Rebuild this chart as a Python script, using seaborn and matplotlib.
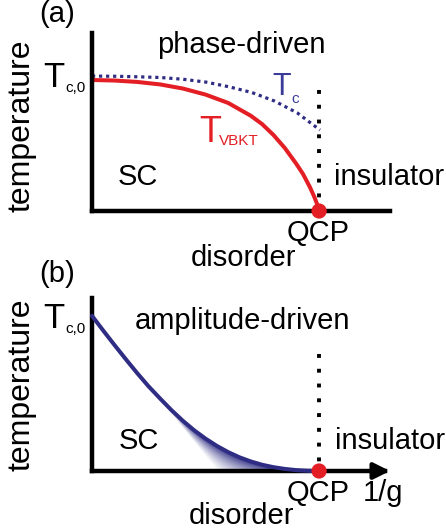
import numpy as np
import matplotlib
matplotlib.use("Agg")
import matplotlib.pyplot as plt
import seaborn as sns

# ---------------- data ----------------
# panel (a): disorder (0..1 along axis) vs temperature (0..1 along axis)
tc_x = [0.0, 0.0765, 0.153, 0.230, 0.306, 0.383, 0.459, 0.536, 0.612, 0.689, 0.765]
tc_y = [0.758, 0.757, 0.754, 0.750, 0.740, 0.724, 0.698, 0.666, 0.618, 0.551, 0.455]
vbkt_x = [0.0, 0.076, 0.152, 0.229, 0.305, 0.381, 0.457, 0.533, 0.571, 0.609,
          0.647, 0.686, 0.708, 0.731, 0.746, 0.754, 0.762]
vbkt_y = [0.736, 0.733, 0.725, 0.711, 0.688, 0.654, 0.607, 0.535, 0.488, 0.427,
          0.354, 0.264, 0.208, 0.135, 0.079, 0.045, 0.0]
# panel (b): amplitude-driven transition line
amp_x = [0.0, 0.038, 0.076, 0.114, 0.152, 0.190, 0.229, 0.267, 0.305, 0.343, 0.381,
         0.419, 0.457, 0.495, 0.533, 0.571, 0.609, 0.647, 0.686, 0.724, 0.762]
amp_y = [0.897, 0.811, 0.727, 0.645, 0.565, 0.489, 0.418, 0.351, 0.290, 0.235, 0.187,
         0.145, 0.109, 0.079, 0.055, 0.036, 0.022, 0.012, 0.005, 0.001, 0.0]
qcp_x = [0.762]
qcp_y = [0.0]
boundary_top = [0.68, 0.676]   # top of dotted vertical lines, panels a and b

RED = "#E31E24"
NAVY = "#2E2D83"
NAVY_TXT = "#3A3A99"

sns.set_style("white")
plt.rcParams["font.family"] = ["Liberation Sans", "DejaVu Sans"]

W, H = 446, 532
fig = plt.figure(figsize=(W / 100, H / 100), dpi=100)


def fp(x, y):
    return x / W, 1 - y / H


def txt(x, y, s, size=21, color="black", ha="left", va="baseline", **kw):
    fx, fy = fp(x, y)
    fig.text(fx, fy, s, fontsize=size, color=color, ha=ha, va=va, **kw)


def make_axes(top_px, bottom_px):
    left, right = 92, 390
    fx, fy = fp(left, bottom_px)
    ax = fig.add_axes([fx, fy, (right - left) / W, (bottom_px - top_px) / H])
    ax.set_xlim(0, 1)
    ax.set_ylim(0, 1)
    ax.set_facecolor("none")
    for s in ["top", "right"]:
        ax.spines[s].set_visible(False)
    for s in ["left", "bottom"]:
        ax.spines[s].set_linewidth(3.2)
        ax.spines[s].set_color("black")
        ax.spines[s].set_capstyle("projecting")
    ax.set_xticks([])
    ax.set_yticks([])
    return ax


def tidy(ax):
    ax.set_xlim(0, 1)
    ax.set_ylim(0, 1)
    ax.set_xlabel("")
    ax.set_ylabel("")


# ---------------- panel (a) ----------------
axa = make_axes(33, 211)
sns.lineplot(x=tc_x, y=tc_y, ax=axa, color=NAVY, lw=2.3, clip_on=False)
axa.lines[-1].set_dashes((1, 1.2))
sns.lineplot(x=vbkt_x, y=vbkt_y, ax=axa, color=RED, lw=2.9, clip_on=False)
axa.plot([qcp_x[0], qcp_x[0]], [boundary_top[0], 0], color="black", lw=2.8,
         dashes=(1, 2.8), clip_on=False)
sns.scatterplot(x=qcp_x, y=qcp_y, ax=axa, color=RED, s=120, edgecolor="none",
                zorder=10, clip_on=False)
tidy(axa)

# ---------------- panel (b) ----------------
axb = make_axes(298, 471)
axb.spines["bottom"].set_visible(False)
axb.annotate("", xy=(1.0, 0), xytext=(0, 0), xycoords="axes fraction",
             arrowprops=dict(arrowstyle="-|>", lw=3.2, color="black",
                             mutation_scale=24, shrinkA=0, shrinkB=0,
                             capstyle="projecting"),
             annotation_clip=False)

# gradient shading below the curve near the QCP
ax_arr = np.array(amp_x)
ay_arr = np.array(amp_y)
gx = np.linspace(0, qcp_x[0], 500)
gy = np.linspace(0, 0.45, 300)
GX, GY = np.meshgrid(gx, gy)
xc = np.interp(GY, ay_arr[::-1], ax_arr[::-1])
xl = 0.419 - 0.46 * GY
with np.errstate(divide="ignore", invalid="ignore"):
    t = (GX - xl) / (xc - xl)
mask = (GX > xl) & (GX < xc) & (xc > xl)
alpha = np.where(mask, np.clip(t, 0, 1) ** 0.9, 0.0)
rgba = np.zeros(GX.shape + (4,))
rgb = matplotlib.colors.to_rgb(NAVY)
rgba[..., 0], rgba[..., 1], rgba[..., 2] = rgb
rgba[..., 3] = alpha
axb.imshow(rgba, extent=[0, qcp_x[0], 0, 0.45], origin="lower", aspect="auto",
           interpolation="bilinear", zorder=1)

sns.lineplot(x=amp_x, y=amp_y, ax=axb, color=NAVY, lw=2.9, clip_on=False, zorder=3)
axb.plot([qcp_x[0], qcp_x[0]], [boundary_top[1], 0], color="black", lw=2.8,
         dashes=(1, 2.8), clip_on=False)
sns.scatterplot(x=qcp_x, y=qcp_y, ax=axb, color=RED, s=120, edgecolor="none",
                zorder=10, clip_on=False)
tidy(axb)

# ---------------- texts ----------------
# panel (a)
txt(57, 22, "(a)", ha="center")
txt(241, 53, "phase-driven", ha="center")
txt(43, 87, "T", size=25)
txt(65, 92, "c,0", size=11)
txt(272, 95, "T", size=22, color=NAVY_TXT)
txt(291, 103, "c", size=11, color=NAVY_TXT)
txt(199, 142, "T", size=26, color=RED)
txt(219, 145, "VBKT", size=11, color=RED)
txt(138, 185, "SC", ha="center")
txt(334, 185, "insulator")
txt(318, 241, "QCP", ha="center")
txt(244, 266, "disorder", ha="center")
txt(22, 126, "temperature", size=23, ha="center", va="center", rotation=90)

# panel (b)
txt(57, 282, "(b)", ha="center")
txt(242, 329, "amplitude-driven", ha="center")
txt(43, 328, "T", size=25)
txt(65, 333, "c,0", size=11)
txt(139, 449, "SC", ha="center")
txt(335, 449, "insulator")
txt(318, 501, "QCP", ha="center")
txt(383, 501, "1/g", ha="center")
txt(242, 524, "disorder", ha="center")
txt(22, 385, "temperature", size=23, ha="center", va="center", rotation=90)

fig.savefig("out.png", dpi=100)
